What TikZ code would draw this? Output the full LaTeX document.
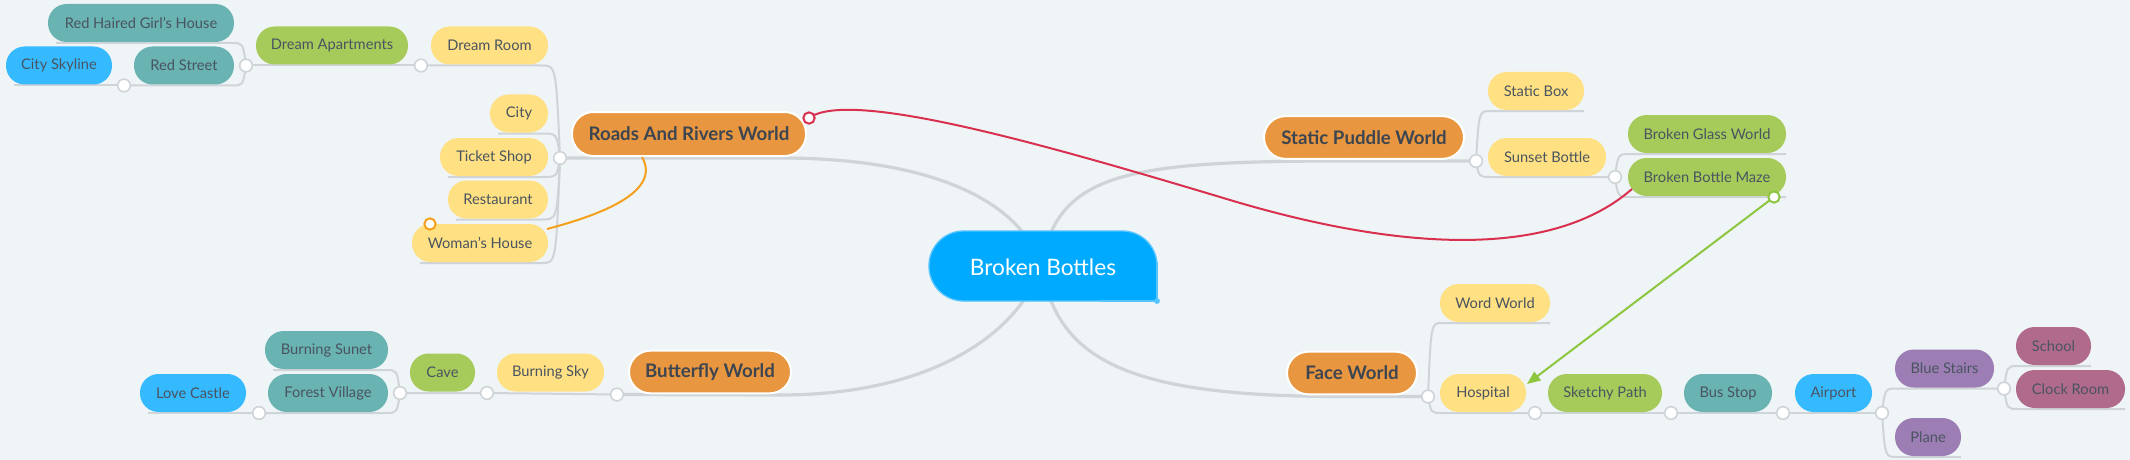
\documentclass[tikz,border=0pt]{standalone}
\usepackage{fontspec}
\setmainfont{Lato}
\usetikzlibrary{arrows.meta}
\pgfdeclarelayer{bgl}
\pgfdeclarelayer{lines}
\pgfsetlayers{bgl,lines,main}
\definecolor{bgc}{HTML}{EFF4F7}
\definecolor{lnc}{HTML}{CFD4D8}
\definecolor{orn}{HTML}{E8963F}
\definecolor{yel}{HTML}{FFE082}
\definecolor{grn}{HTML}{A7CB5A}
\definecolor{tea}{HTML}{69B3B2}
\definecolor{blu}{HTML}{35BAFF}
\definecolor{pur}{HTML}{9C7EB4}
\definecolor{mau}{HTML}{B06A8C}
\definecolor{ctr}{HTML}{00AAFF}
\definecolor{ctrb}{HTML}{55C4FF}
\definecolor{txt}{HTML}{4A5460}
\definecolor{txtd}{HTML}{3D4650}
\definecolor{redl}{HTML}{D9304F}
\definecolor{orgl}{HTML}{F5A01C}
\definecolor{grnl}{HTML}{8DC63F}
\begin{document}
\begin{tikzpicture}[x=0.75pt,y=-0.75pt,
  bub/.style={rectangle, rounded corners=14pt, inner sep=0pt, minimum height=28.5pt, text=txt, font=\fontsize{11}{13}\selectfont},
  wd/.style={minimum width=#1*0.75pt},
  yb/.style={bub, fill=yel},
  gb/.style={bub, fill=grn},
  tb/.style={bub, fill=tea},
  bb/.style={bub, fill=blu},
  pb/.style={bub, fill=pur},
  mb/.style={bub, fill=mau},
  mainbub/.style={rectangle, rounded corners=16pt, inner sep=0pt, minimum height=32pt, fill=orn, draw=white, line width=1.5pt, text=txtd, font=\fontsize{14}{16}\selectfont\bfseries},
  knob/.style={circle, fill=white, draw=lnc, line width=1.2pt, minimum size=9.5pt, inner sep=0pt},
  ln/.style={draw=lnc, line width=1.5pt},
  mln/.style={draw=lnc, line width=2.4pt},
  rel/.style={line width=1.5pt},
  relknob/.style={circle, fill=white, line width=1.5pt, minimum size=8.5pt, inner sep=0pt}
]
\useasboundingbox (0,0) rectangle (2130,460);
\begin{pgfonlayer}{bgl}
  \fill[bgc] (0,0) rectangle (2130,460);
\end{pgfonlayer}

% ---------- centre ----------
\fill[ctr, draw=ctrb, line width=1pt, rounded corners=26pt] (929,231) rectangle (1157,301);
\fill[ctr] (1100,268) rectangle (1156.6,300.6);
\draw[ctrb, line width=1pt] (1157,262) -- (1157,301) -- (1100,301);
\fill[ctrb] (1157,301) circle (2.2pt);
\node[text=white, font=\fontsize{17}{20}\selectfont] (bb) at (1043,267) {Broken Bottles};

% ---------- main nodes ----------
\node[mainbub, wd=234, minimum height=33pt] (rr) at (689,134) {Roads And Rivers World};
\node[mainbub, wd=162] (bw) at (710,372) {Butterfly World};
\node[mainbub, wd=200] (spw) at (1364,137.5) {Static Puddle World};
\node[mainbub, wd=130] (fw) at (1352,373) {Face World};

% ---------- left nodes ----------
\node[yb, wd=117] (dr) at (489.5,45.5) {Dream Room};
\node[gb, wd=152] (da) at (332,45.5) {Dream Apartments};
\node[tb, wd=186] (rhg) at (141,23) {Red Haired Girl's House};
\node[tb, wd=100] (rs) at (184,65.5) {Red Street};
\node[bb, wd=106] (cs) at (59,65.5) {City Skyline};
\node[yb, wd=58] (city) at (519,113.5) {City};
\node[yb, wd=108] (ts) at (494,157) {Ticket Shop};
\node[yb, wd=100] (rest) at (498,199.5) {Restaurant};
\node[yb, wd=136] (wh) at (480,243) {Woman's House};
\node[yb, wd=107] (bsky) at (550.5,372.5) {Burning Sky};
\node[gb, wd=65] (cave) at (442.5,372.5) {Cave};
\node[tb, wd=123] (bsun) at (326.5,350) {Burning Sunet};
\node[tb, wd=120] (fv) at (328,393) {Forest Village};
\node[bb, wd=106] (lc) at (193,393) {Love Castle};

% ---------- right nodes ----------
\node[yb, wd=96] (sbox) at (1536,91) {Static Box};
\node[yb, wd=118] (sbot) at (1547,157) {Sunset Bottle};
\node[gb, wd=158] (bgw) at (1707,134) {Broken Glass World};
\node[gb, wd=158] (bbm) at (1707,177) {Broken Bottle Maze};
\node[yb, wd=110] (ww) at (1495,303) {Word World};
\node[yb, wd=86] (hosp) at (1483,393) {Hospital};
\node[gb, wd=114] (sp) at (1605,393) {Sketchy Path};
\node[tb, wd=88] (bus) at (1728,393) {Bus Stop};
\node[bb, wd=77] (air) at (1833.5,393) {Airport};
\node[pb, wd=99] (bst) at (1944.5,368.5) {Blue Stairs};
\node[pb, wd=66] (plane) at (1928,437) {Plane};
\node[mb, wd=75] (school) at (2053.5,346) {School};
\node[mb, wd=109] (clock) at (2070.5,389) {Clock Room};

% ---------- joints ----------
\coordinate (hub) at (1041,266);
\coordinate (crr) at (560,158);
\coordinate (cdr) at (421,65.5);
\coordinate (cda) at (246,65.5);
\coordinate (crs) at (124,85.5);
\coordinate (cbw) at (617,394.5);
\coordinate (cbsky) at (487,393);
\coordinate (ccave) at (400,393);
\coordinate (cfv) at (259,413);
\coordinate (cspw) at (1476,161);
\coordinate (csbot) at (1615,177);
\coordinate (cfw) at (1428,396.5);
\coordinate (chosp) at (1535,413);
\coordinate (csp) at (1671,413);
\coordinate (cbus) at (1783,413);
\coordinate (cair) at (1882,413);
\coordinate (cbst) at (2004,388.5);

\begin{pgfonlayer}{lines}
  % main branches
  \draw[mln] (crr) -- (780,158) .. controls (940,158) and (1022,205) .. (hub);
  \draw[mln] (cspw) -- (1340,161) .. controls (1120,161) and (1058,175) .. (hub);
  \draw[mln] (cbw) -- (780,395) .. controls (940,395) and (1022,327) .. (hub);
  \draw[mln] (cfw) -- (1340,396.5) .. controls (1120,396.5) and (1058,357) .. (hub);
  % Roads children
  \draw[ln] (crr) .. controls (556,65.5) .. (542,65.5) -- (cdr);
  \draw[ln] (crr) .. controls (557,133.5) .. (542,133.5) -- (498,133.5);
  \draw[ln] (crr) .. controls (557,177) .. (542,177) -- (448,177);
  \draw[ln] (crr) .. controls (557,219.5) .. (542,219.5) -- (456,219.5);
  \draw[ln] (crr) .. controls (556,263) .. (542,263) -- (420,263);
  \draw[ln] (cdr) -- (cda);
  \draw[ln] (cda) .. controls (243,43) .. (232,43) -- (56,43);
  \draw[ln] (cda) .. controls (243,85.5) .. (232,85.5) -- (crs);
  \draw[ln] (crs) -- (14,85.5);
  % Butterfly children
  \draw[ln] (cbw) -- (cbsky) -- (ccave);
  \draw[ln] (ccave) .. controls (397,370) .. (386,370) -- (273,370);
  \draw[ln] (ccave) .. controls (397,413) .. (386,413) -- (cfv);
  \draw[ln] (cfv) -- (148,413);
  % Static Puddle children
  \draw[ln] (cspw) .. controls (1479,111) .. (1490,111) -- (1584,111);
  \draw[ln] (cspw) .. controls (1479,177) .. (1490,177) -- (csbot);
  \draw[ln] (csbot) .. controls (1618,154) .. (1630,154) -- (1786,154);
  \draw[ln] (csbot) .. controls (1618,197) .. (1630,197) -- (1786,197);
  % Face World children
  \draw[ln] (cfw) .. controls (1431,323) .. (1442,323) -- (1550,323);
  \draw[ln] (cfw) .. controls (1431,413) .. (1442,413) -- (chosp);
  \draw[ln] (chosp) -- (csp) -- (cbus) -- (cair);
  \draw[ln] (cair) .. controls (1885,388.5) .. (1897,388.5) -- (cbst);
  \draw[ln] (cair) .. controls (1885,457) .. (1897,457) -- (1961,457);
  \draw[ln] (cbst) .. controls (2007,366) .. (2018,366) -- (2091,366);
  \draw[ln] (cbst) .. controls (2007,409) .. (2018,409) -- (2125,409);
\end{pgfonlayer}

% knobs
\foreach \c in {crr,cdr,cda,crs,cbw,cbsky,ccave,cfv,cspw,csbot,cfw,chosp,csp,cbus,cair,cbst}
  \node[knob] at (\c) {};

% ---------- relations ----------
\coordinate (rstart) at (809,118);
\coordinate (rmid) at (1230,200);
\coordinate (rend) at (1632,189);
\draw[rel, redl] (rstart) .. controls (850,88) and (1050,146) .. (rmid)
  .. controls (1380,245) and (1545,265) .. (rend);
\node[relknob, draw=redl] (rk) at (rstart) {};

\coordinate (ostart) at (642,157);
\coordinate (oend) at (547,229);
\draw[rel, orgl] (ostart) .. controls (662,192) and (600,215) .. (oend);
\node[relknob, draw=orgl] (ok) at (430,224) {};

\coordinate (gstart) at (1774,197);
\coordinate (gend) at (1527,384);
\draw[rel, grnl, -{Triangle[length=10pt,width=8pt]}] (gstart) -- (gend);
\node[relknob, draw=grnl] (gk) at (gstart) {};
\end{tikzpicture}
\end{document}
